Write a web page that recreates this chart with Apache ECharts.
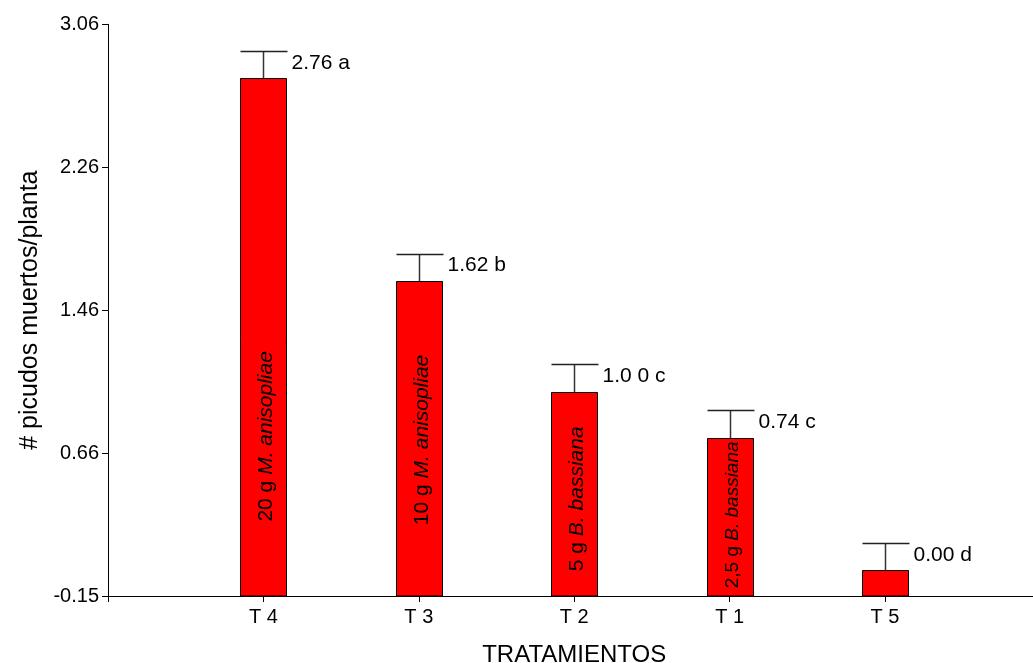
<!DOCTYPE html>
<html>
<head>
<meta charset="utf-8">
<title>Picudos muertos por planta</title>
<script src="https://cdn.jsdelivr.net/npm/echarts@6/dist/echarts.min.js"></script>
<style>
  html, body { margin: 0; padding: 0; background: #ffffff; }
  #chart { width: 1033px; height: 663px; }
</style>
</head>
<body>
<div id="chart"></div>
<script>
// Treatments, in the order they appear along the axis
const categories = ['T 4', 'T 3', 'T 2', 'T 1', 'T 5'];
// Mean dead weevils per plant and the error of each mean
const means = [2.76, 1.62, 1.00, 0.74, 0.00];
const errors = [0.15, 0.155, 0.155, 0.155, 0.15];
// Mean with its significance letter
const valueLabels = ['2.76 a', '1.62 b', '1.0 0 c', '0.74 c', '0.00 d'];
// Dose and fungus written inside each bar
const doses = ['20 g ', '10 g ', '5 g ', '2,5 g ', ''];
const species = ['M. anisopliae', 'M. anisopliae', 'B. bassiana', 'B. bassiana', ''];
// Value-axis tick labels
const yTickLabels = ['-0.15', '0.66', '1.46', '2.26', '3.06'];

// Axis range
const Y_MIN = -0.145;
const Y_MAX = 3.06;
const Y_STEP = (Y_MAX - Y_MIN) / 4;

// Layout of the text drawn inside the bars (centre height in axis units, font size)
const insetCenter = [0.75, 0.73, 0.40, 0.31, 0];
const insetFont = [21, 21, 21, 19, 21];
const BAR_WIDTH = 0.296;
const FONT = '"Liberation Sans", Arial, sans-serif';

const barData = means.map((m, i) => [i + 1, m, errors[i]]);

function renderBar(params, api) {
  const i = params.dataIndex;
  const x = api.value(0);
  const v = api.value(1);
  const e = api.value(2);
  const base = api.coord([x, Y_MIN]);
  const top = api.coord([x, v]);
  const cap = api.coord([x, v + e]);
  const w = api.size([BAR_WIDTH, 0])[0];
  const left = Math.round(top[0] - w / 2) + 0.5;
  const right = Math.round(top[0] + w / 2) + 0.5;
  const cx = Math.round(top[0]) + 0.5;
  const topY = Math.round(top[1]) + 0.5;
  const capY = Math.round(cap[1]) + 0.5;
  const children = [
    {
      type: 'line',
      shape: { x1: cx, y1: topY, x2: cx, y2: capY },
      style: { stroke: '#333333', lineWidth: 1.5 }
    },
    {
      type: 'line',
      shape: { x1: left, y1: capY, x2: right + 1, y2: capY },
      style: { stroke: '#222222', lineWidth: 1.5 }
    },
    {
      type: 'rect',
      shape: { x: left, y: topY, width: right - left, height: base[1] - topY },
      style: { fill: '#ff0000', stroke: '#000000', lineWidth: 1 }
    },
    {
      type: 'text',
      x: right + 5,
      y: cap[1] + 12,
      style: {
        text: valueLabels[i],
        font: '21px ' + FONT,
        fill: '#000000',
        textAlign: 'left',
        textVerticalAlign: 'middle'
      }
    }
  ];
  if (species[i]) {
    const lc = api.coord([x, insetCenter[i]]);
    const fs = insetFont[i];
    children.push({
      type: 'text',
      x: top[0] + 3,
      y: lc[1],
      rotation: Math.PI / 2,
      style: {
        text: '{n|' + doses[i] + '}{s|' + species[i] + '}',
        textAlign: 'center',
        textVerticalAlign: 'middle',
        rich: {
          n: { fontSize: fs, fontFamily: FONT, fill: '#000000' },
          s: { fontSize: fs, fontFamily: FONT, fontStyle: 'italic', fill: '#000000' }
        }
      }
    });
  }
  return { type: 'group', children: children };
}

const chart = echarts.init(document.getElementById('chart'), null, { renderer: 'canvas' });
chart.setOption({
  animation: false,
  backgroundColor: '#ffffff',
  grid: { left: 108, right: -7.4, top: 24.3, bottom: 67, outerBoundsMode: 'none', containLabel: false },
  xAxis: {
    type: 'value',
    min: 0,
    max: 6,
    interval: 1,
    name: 'TRATAMIENTOS',
    nameLocation: 'middle',
    nameGap: 47,
    nameTextStyle: { fontFamily: FONT, fontSize: 24, color: '#000000' },
    axisLine: { show: true, onZero: false, lineStyle: { color: '#000000', width: 1 } },
    axisTick: { show: true, length: 6, lineStyle: { color: '#000000' } },
    axisLabel: {
      margin: 11,
      fontFamily: FONT,
      fontSize: 20,
      color: '#000000',
      formatter: function (v) {
        const k = Math.round(v) - 1;
        return categories[k] !== undefined ? categories[k] : '';
      }
    },
    splitLine: { show: false }
  },
  yAxis: {
    type: 'value',
    min: Y_MIN,
    max: Y_MAX,
    interval: Y_STEP,
    name: '# picudos muertos/planta',
    nameLocation: 'middle',
    nameGap: 64,
    nameTextStyle: { fontFamily: FONT, fontSize: 25, color: '#000000' },
    axisLine: { show: true, onZero: false, lineStyle: { color: '#000000', width: 1 } },
    axisTick: { show: true, length: 6, lineStyle: { color: '#000000' } },
    axisLabel: {
      margin: 9,
      fontFamily: FONT,
      fontSize: 20,
      color: '#000000',
      formatter: function (v) {
        const k = Math.round((v - Y_MIN) / Y_STEP);
        return yTickLabels[k] !== undefined ? yTickLabels[k] : '';
      }
    },
    splitLine: { show: false }
  },
  series: [{
    type: 'custom',
    renderItem: renderBar,
    data: barData,
    clip: false,
    encode: { x: 0, y: 1 }
  }]
});
</script>
</body>
</html>
